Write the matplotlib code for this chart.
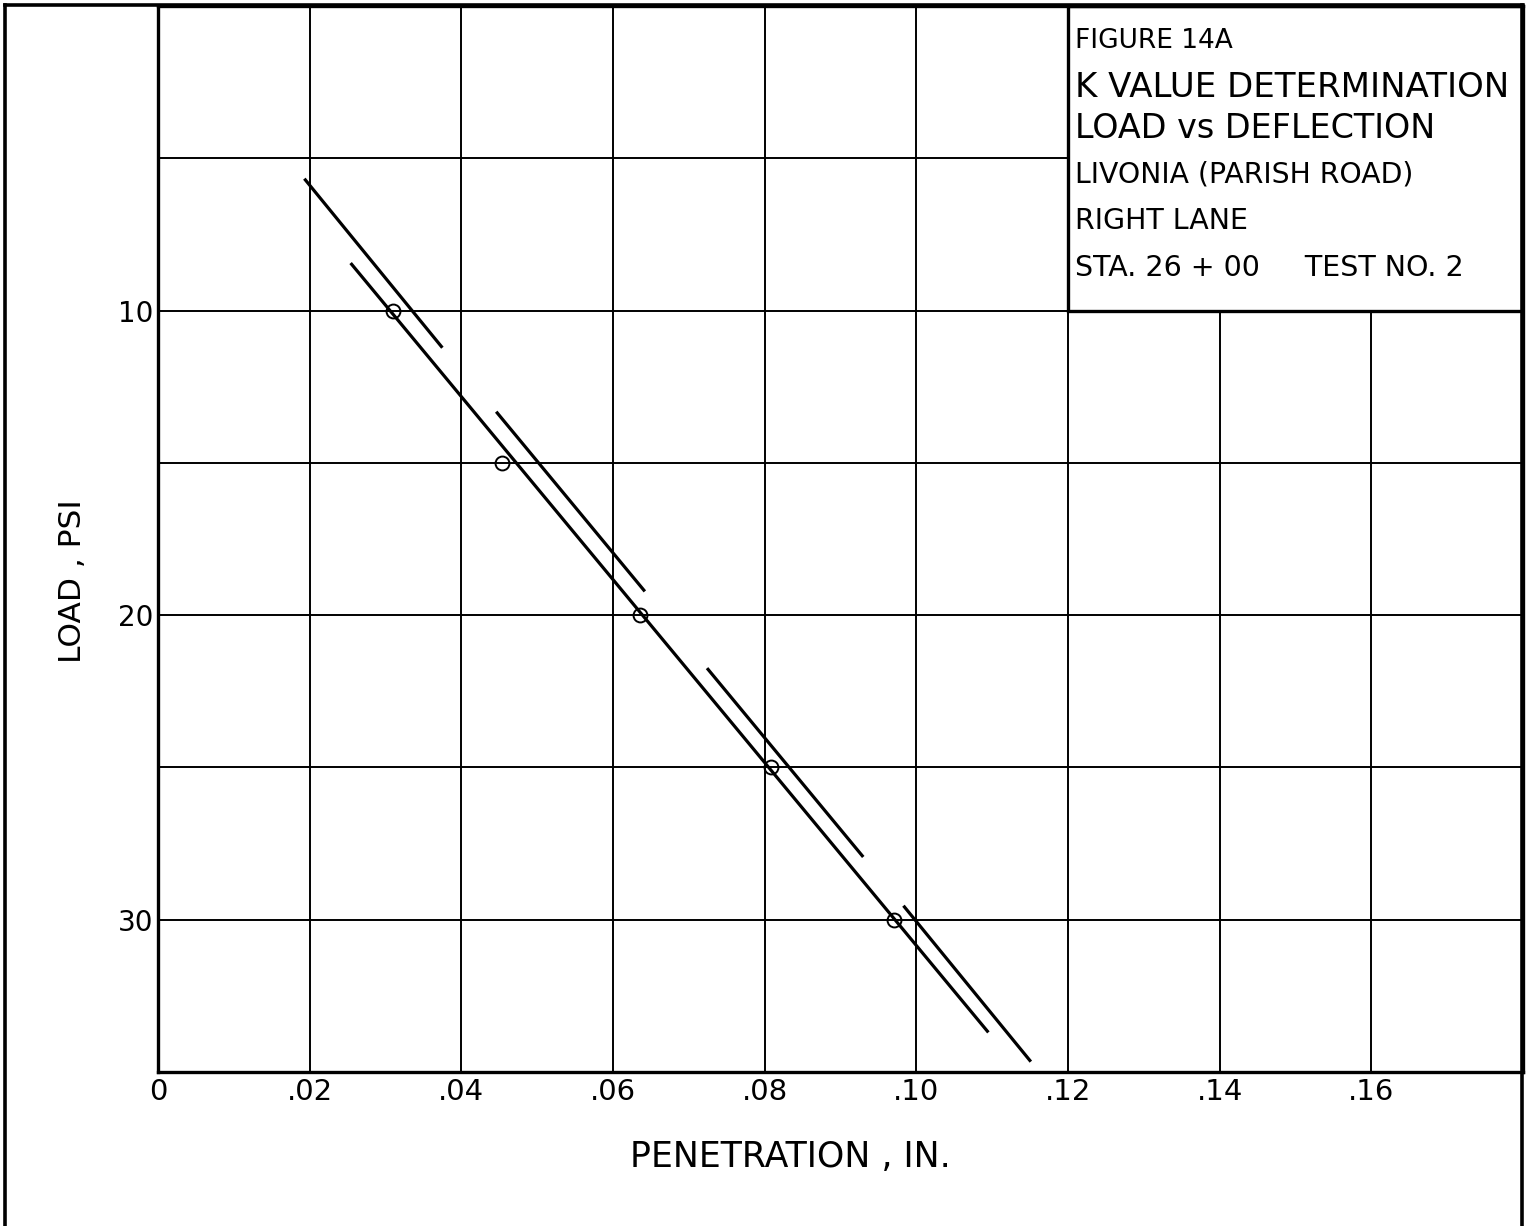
import matplotlib
matplotlib.use("Agg")
import matplotlib.pyplot as plt
from matplotlib.patches import Rectangle
from matplotlib.lines import Line2D

plt.rcParams["font.family"] = ["DejaVu Sans"]

# plate-load test readings
load_psi = [10, 15, 20, 25, 30]
penetration_in = [0.031, 0.0454, 0.0636, 0.0808, 0.097]

# drawn fit line through the readings
fit_pen = [0.0254, 0.1095]
fit_load = [8.44, 33.7]

# short parallel strokes beside the fit line
stroke_pen = [(0.0193, 0.0375), (0.0446, 0.0642), (0.0724, 0.0930), (0.0983, 0.1151)]
stroke_load = [(5.67, 11.22), (13.32, 19.22), (21.74, 27.94), (29.54, 34.66)]

x_ticks = [0, 0.02, 0.04, 0.06, 0.08, 0.10, 0.12, 0.14, 0.16]
x_tick_labels = ["0", ".02", ".04", ".06", ".08", ".10", ".12", ".14", ".16"]
y_ticks = [10, 20, 30]
y_minor = [5, 15, 25]

title_lines = [
    ("FIGURE 14A", 19, 48),
    ("K VALUE DETERMINATION", 24.5, 97),
    ("LOAD vs DEFLECTION", 24, 138),
    ("LIVONIA (PARISH ROAD)", 20.3, 182),
    ("RIGHT LANE", 20.5, 229),
    ("STA. 26 + 00     TEST NO. 2", 20.5, 276),
]

W, H = 1527, 1226
fig = plt.figure(figsize=(W / 100, H / 100), dpi=100)
ax = fig.add_axes([158 / W, (H - 1072) / H, (1523 - 158) / W, (1072 - 6) / H])

ax.set_xlim(0, 0.18)
ax.set_ylim(35, 0)
ax.set_xticks(x_ticks)
ax.set_xticklabels(x_tick_labels)
ax.set_yticks(y_ticks)
ax.set_yticks(y_minor, minor=True)
ax.tick_params(which="both", length=0)
ax.tick_params(axis="x", pad=4, labelsize=21)
ax.tick_params(axis="y", pad=3, labelsize=20)
ax.grid(which="both", color="black", lw=1.4)
ax.set_axisbelow(True)
for sp in ax.spines.values():
    sp.set_linewidth(2.4)

# title block in the upper right corner of the grid
ax.add_patch(Rectangle((0.12, 0), 0.06, 10, facecolor="white",
                       edgecolor="black", lw=2.4, zorder=1.5))
for txt, size, base in title_lines:
    fig.text(1075 / W, 1 - base / H, txt, fontsize=size, va="baseline", ha="left")

ax.plot(fit_pen, fit_load, color="black", lw=2.3, solid_capstyle="butt", zorder=3)
for xs, ys in zip(stroke_pen, stroke_load):
    ax.plot(xs, ys, color="black", lw=2.3, solid_capstyle="butt", zorder=3)
ax.plot(penetration_in, load_psi, "o", mfc="none", mec="black", ms=10, mew=1.4, zorder=4)

ax.text(0.463, -0.0797, "PENETRATION , IN.", transform=ax.transAxes,
        ha="center", va="center", fontsize=25)
ax.text(-0.0623, 0.4606, "LOAD , PSI", transform=ax.transAxes, rotation=90,
        ha="center", va="center", fontsize=22.5)

# sheet border
for xs, ys in [([5, 5], [5, H]), ([5, 1523], [5, 5]), ([1522, 1522], [5, H])]:
    fig.add_artist(Line2D([x / W for x in xs], [1 - y / H for y in ys],
                          transform=fig.transFigure, color="black", lw=2.6))

fig.savefig("out.png", dpi=100)
